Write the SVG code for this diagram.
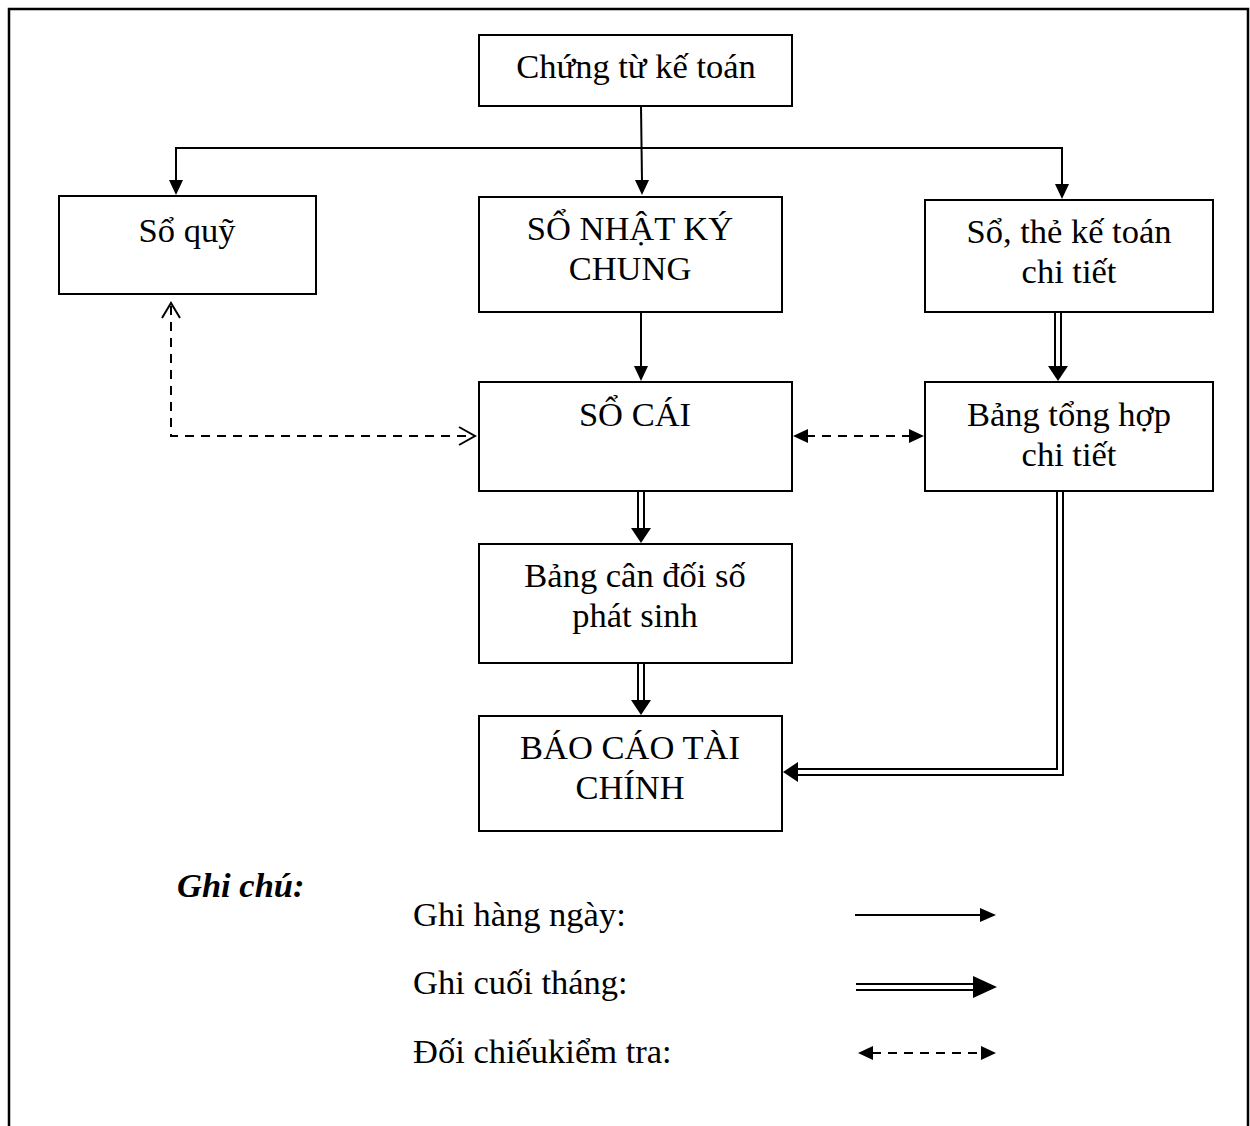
<svg xmlns="http://www.w3.org/2000/svg" width="1250" height="1126" viewBox="0 0 1250 1126">
  <defs>
    <style>
      .box { fill: #fff; stroke: #000; stroke-width: 2; }
      .t { font-family: "Liberation Serif", "Times New Roman", serif; font-size: 34.5px; fill: #000; text-anchor: middle; }
      .lt { font-family: "Liberation Serif", "Times New Roman", serif; font-size: 34.5px; fill: #000; }
      .ln { fill: none; stroke: #000; stroke-width: 2; }
      .dash { fill: none; stroke: #000; stroke-width: 2; stroke-dasharray: 9 7; }
      .head { fill: #000; stroke: none; }
      .open { fill: none; stroke: #000; stroke-width: 2; }
    </style>
  </defs>
  <rect width="1250" height="1126" fill="#fff"/>
  <!-- page frame -->
  <path d="M9 1126 V9 H1248 V1126" fill="none" stroke="#000" stroke-width="2.5"/>

  <g id="chung-tu">
    <rect class="box" x="479" y="35" width="313" height="71"/>
    <text class="t" x="636" y="78">Chứng từ kế toán</text>
  </g>
  <g id="so-quy">
    <rect class="box" x="59" y="196" width="257" height="98"/>
    <text class="t" x="187" y="242">Sổ quỹ</text>
  </g>
  <g id="nhat-ky-chung">
    <rect class="box" x="479" y="197" width="303" height="115"/>
    <text class="t" x="630" y="240">SỔ NHẬT KÝ</text>
    <text class="t" x="630" y="280">CHUNG</text>
  </g>
  <g id="so-the-chi-tiet">
    <rect class="box" x="925" y="200" width="288" height="112"/>
    <text class="t" x="1069" y="243">Sổ, thẻ kế toán</text>
    <text class="t" x="1069" y="283">chi tiết</text>
  </g>
  <g id="so-cai">
    <rect class="box" x="479" y="382" width="313" height="109"/>
    <text class="t" x="635" y="426">SỔ CÁI</text>
  </g>
  <g id="bang-tong-hop">
    <rect class="box" x="925" y="382" width="288" height="109"/>
    <text class="t" x="1069" y="426">Bảng tổng hợp</text>
    <text class="t" x="1069" y="466">chi tiết</text>
  </g>
  <g id="can-doi">
    <rect class="box" x="479" y="544" width="313" height="119"/>
    <text class="t" x="635" y="587">Bảng cân đối số</text>
    <text class="t" x="635" y="627">phát sinh</text>
  </g>
  <g id="bao-cao">
    <rect class="box" x="479" y="716" width="303" height="115"/>
    <text class="t" x="630" y="759">BÁO CÁO TÀI</text>
    <text class="t" x="630" y="799">CHÍNH</text>
  </g>

  <g id="connectors">
    <!-- daily entries -->
    <path class="ln" d="M641 106 L642 182"/>
    <polygon class="head" points="635,180 649,180 642,195"/>
    <path class="ln" d="M176 182 V148 H1062 V184"/>
    <polygon class="head" points="169,180 183,180 176,195"/>
    <polygon class="head" points="1055,184 1069,184 1062,199"/>
    <path class="ln" d="M641 312 V368"/>
    <polygon class="head" points="634,366 648,366 641,381"/>

    <!-- month-end entries (double lines) -->
    <path class="ln" d="M1055 312 V368 M1061 312 V368"/>
    <polygon class="head" points="1048,366 1068,366 1058,381"/>
    <path class="ln" d="M638 491 V530 M644 491 V530"/>
    <polygon class="head" points="631,528 651,528 641,543"/>
    <path class="ln" d="M638 663 V702 M644 663 V702"/>
    <polygon class="head" points="631,700 651,700 641,715"/>
    <path class="ln" d="M1063 491 V775 H796 M1057 491 V769 H796"/>
    <polygon class="head" points="798,762 798,782 783,772"/>

    <!-- cross-checks (dashed) -->
    <path class="dash" d="M171 306 V436 H468"/>
    <polyline class="open" points="162,318 171,303 180,318"/>
    <polyline class="open" points="459,427 475,436 459,445"/>
    <path class="dash" d="M806 436 H911"/>
    <polygon class="head" points="808,429 808,443 793,436"/>
    <polygon class="head" points="909,429 909,443 924,436"/>
  </g>

  <g id="legend">
    <text class="lt" x="177" y="897" font-weight="bold" font-style="italic">Ghi chú:</text>
    <text class="lt" x="413" y="926">Ghi hàng ngày:</text>
    <text class="lt" x="413" y="994">Ghi cuối tháng:</text>
    <text class="lt" x="413" y="1063">Đối chiếukiểm tra:</text>
    <path class="ln" d="M855 915 H984"/>
    <polygon class="head" points="980,908 980,922 996,915"/>
    <path class="ln" d="M856 984 H976 M856 990 H976"/>
    <polygon class="head" points="973,976 973,998 997,987"/>
    <path class="dash" d="M872 1053 H980"/>
    <polygon class="head" points="873,1046 873,1060 858,1053"/>
    <polygon class="head" points="981,1046 981,1060 996,1053"/>
  </g>
</svg>
